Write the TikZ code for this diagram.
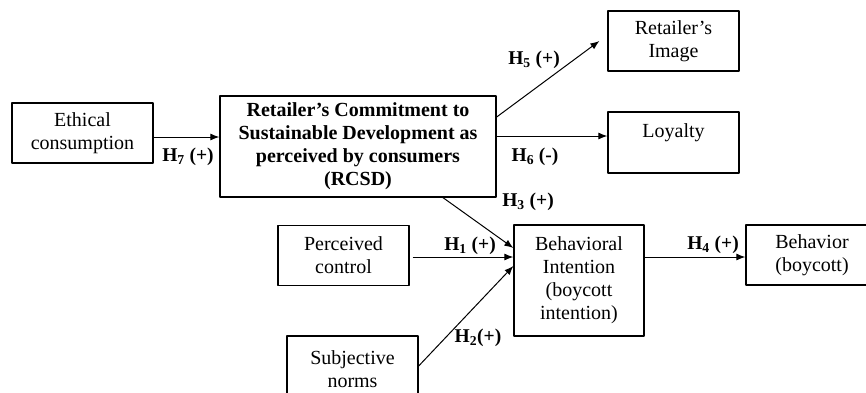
\documentclass[tikz,border=0pt]{standalone}
\usepackage{fontspec}
\setmainfont{Liberation Serif}
\usetikzlibrary{arrows.meta}
\begin{document}
\begin{tikzpicture}[x=1pt, y=-1pt, font=\fontsize{20}{23}\selectfont, line join=round, >={Latex[length=9pt,width=7pt]}]
	\tikzset{
		box/.style={draw, line width=1.3pt, align=center, inner sep=2pt},
		lien/.style={->, line width=1pt},
		hyp/.style={font=\fontsize{19.5}{22}\selectfont\bfseries, inner sep=1pt}
	}
	\useasboundingbox (0,0) rectangle (866,392);
	% cac khoi
	\node[box, minimum width=141pt, minimum height=60pt] (ethic) at (82.5,133) {Ethical\\consumption};
	\node[box, minimum width=276pt, minimum height=101pt, font=\fontsize{20}{23}\selectfont\bfseries] (rcsd) at (358,146.5)
		{Retailer's Commitment to\\Sustainable Development as\\perceived by consumers\\(RCSD)};
	\node[box, minimum width=131pt, minimum height=60pt] (image) at (673.5,41) {Retailer's\\Image};
	\node[box, minimum width=131pt, minimum height=61pt] (loyal) at (673.5,142.5) {Loyalty\\\mbox{}};
	\node[box, minimum width=131pt, minimum height=60pt] (percv) at (343.5,255.5) {Perceived\\control};
	\node[box, minimum width=130pt, minimum height=111pt] (bi) at (579,280.5) {Behavioral\\Intention\\(boycott\\intention)};
	\node[box, minimum width=132pt, minimum height=60pt] (behav) at (812,255) {Behavior\\(boycott)};
	\node[box, minimum width=131pt, minimum height=66pt] (subj) at (352.5,369) {Subjective\\norms};
	% cac mui ten
	\coordinate (h7) at ([yshift=-4pt]ethic.east);
	\coordinate (h1) at ([yshift=23.5pt]bi.west);
	\coordinate (h4) at ([yshift=23.5pt]bi.east);
	\draw[lien] (h7) -- (h7 -| rcsd.west);
	\draw[lien] ([yshift=29.5pt]rcsd.east) -- ([xshift=-8pt]image.west);
	\draw[lien] ([yshift=10.5pt]rcsd.east) -- ([yshift=10.5pt]rcsd.east -| loyal.west);
	\draw[lien] ([xshift=85pt]rcsd.south) -- ([yshift=32.5pt]bi.west);
	\draw[lien] ([xshift=3pt]h1 -| percv.east) -- (h1);
	\draw[lien] ([yshift=3pt]subj.east) -- ([yshift=14.5pt]bi.west);
	\draw[lien] (h4) -- (h4 -| behav.west);
	% nhan
	\node[hyp] (l7) at (188,157) {H\textsubscript{7} (+)};
	\node[hyp] (l5) at (534,60) {H\textsubscript{5} (+)};
	\node[hyp] (l6) at (535,157) {H\textsubscript{6} (-)};
	\node[hyp] (l3) at (528,202) {H\textsubscript{3} (+)};
	\node[hyp] (l1) at (470,246) {H\textsubscript{1} (+)};
	\node[hyp] (l2) at (478,338) {H\textsubscript{2}(+)};
	\node[hyp] (l4) at (713,245) {H\textsubscript{4} (+)};
\end{tikzpicture}
\end{document}
